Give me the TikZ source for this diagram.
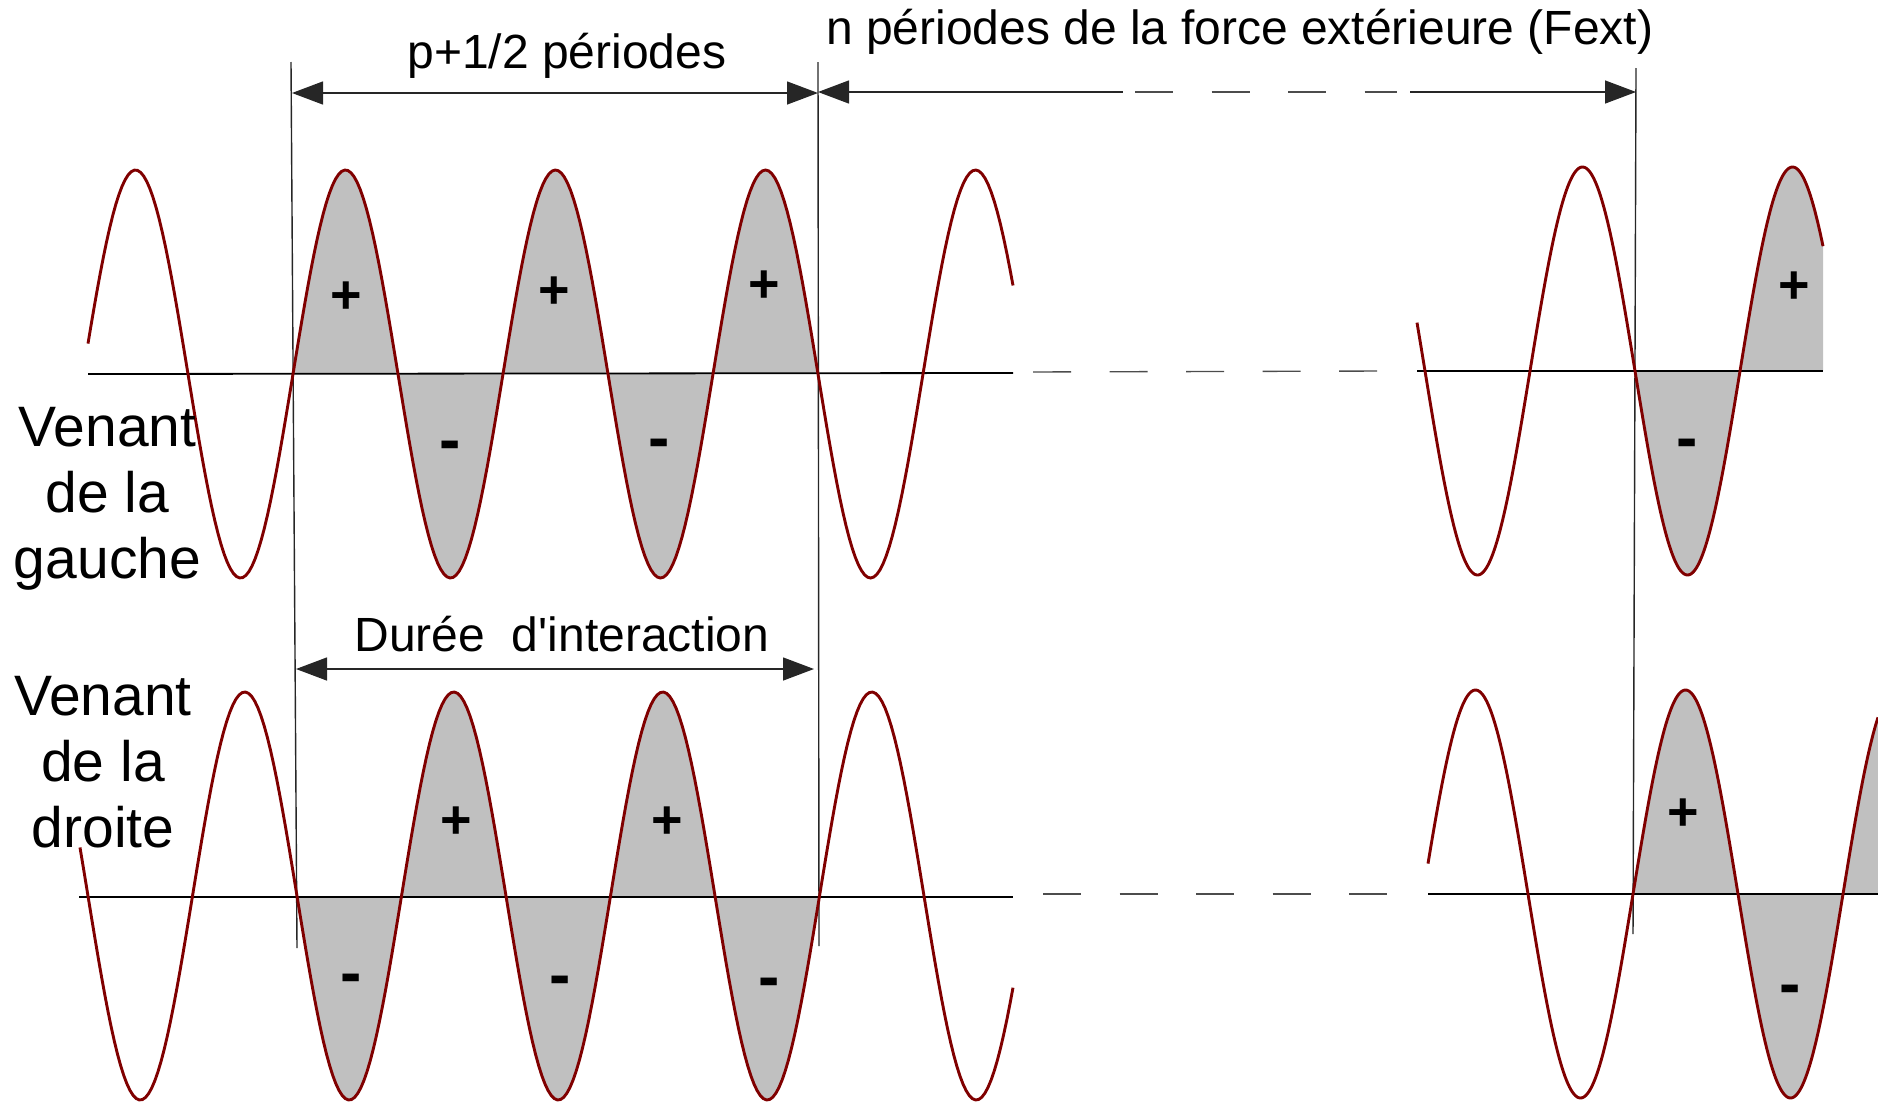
\documentclass[tikz,border=0pt]{standalone}
\usepackage{fontspec}
\setmainfont{Liberation Sans}
\usepackage{tikz}
\usetikzlibrary{arrows.meta,positioning}
\definecolor{wavered}{RGB}{128,0,0}
\definecolor{lobegray}{RGB}{192,192,192}

\begin{document}
\begin{tikzpicture}[
    x=1pt,
    y=-1pt,
    >={Triangle[length=31pt,width=23pt]},
    wave/.style={wavered,line width=2.9pt,samples=300},
    axis/.style={black,line width=1.8pt},
    guide/.style={black!85,line width=1.4pt},
    gap/.style={black!70,line width=1.4pt,dash pattern=on 38pt off 38.5pt},
    lobe/.style={fill=lobegray},
    plus/.style={font=\fontsize{54}{54}\selectfont\bfseries,inner sep=0pt},
    minus/.style={font=\fontsize{64}{64}\selectfont\bfseries,inner sep=0pt},
    title/.style={font=\fontsize{48}{56}\selectfont,inner sep=0pt},
    side/.style={font=\fontsize{57}{66}\selectfont,align=center,inner sep=0pt}
]
\useasboundingbox (0,0) rectangle (1878,1103);

% Shaded lobes
\fill[lobe] (293,374)
    -- plot[domain=293:818,samples=200] (\x,{374-204*sin((\x-293)/210*360)})
    -- cycle;
\fill[lobe] (1635,371)
    -- plot[domain=1635:1823,samples=120] (\x,{371+204*sin((\x-1635)/210*360)})
    -- (1823,371) -- cycle;
\fill[lobe] (297,896)
    -- plot[domain=297:819.5,samples=200] (\x,{896+204*sin((\x-297)/209*360)})
    -- cycle;
\fill[lobe] (1633,894)
    -- plot[domain=1633:1878,samples=150] (\x,{894-204*sin((\x-1633)/210*360)})
    -- (1878,894) -- cycle;

% Time axes
\draw[axis] (88,374) -- (1013,373);
\draw[gap] (1033,372) -- (1379,371);
\draw[axis] (1417,371) -- (1823,371);
\draw[axis] (79,897) -- (1013,897);
\draw[gap] (1043,894) -- (1389,894);
\draw[axis] (1428,894) -- (1878,894);

% Vertical marks
\coordinate (v1t) at (291,62);
\coordinate (v1b) at (297,948);
\coordinate (v2t) at (818,62);
\coordinate (v2b) at (819,946);
\coordinate (v3t) at (1636,68);
\coordinate (v3b) at (1633,934);
\draw[guide] (v1t) -- (v1b);
\draw[guide] (v2t) -- (v2b);
\draw[guide] (v3t) -- (v3b);

% Sine waves
\draw[wave] plot[domain=88:1013] (\x,{374-204*sin((\x-293)/210*360)});
\draw[wave] plot[domain=1417:1823] (\x,{371+204*sin((\x-1635)/210*360)});
\draw[wave] plot[domain=80:1013] (\x,{896+204*sin((\x-297)/209*360)});
\draw[wave] plot[domain=1428:1878] (\x,{894-204*sin((\x-1633)/210*360)});

% Dimension arrows
\coordinate (a1) at (292,93);
\coordinate (a2) at (818,93);
\coordinate (b1) at (818,92);
\coordinate (b2) at (1123,92);
\coordinate (b3) at (1135,92);
\coordinate (b4) at (1397,92);
\coordinate (b5) at (1410,92);
\coordinate (b6) at (1636,92);
\coordinate (d1) at (296,669);
\coordinate (d2) at (814,669);
\draw[guide,<->] (a1) -- (a2);
\draw[guide,<-] (b1) -- (b2);
\draw[gap] (b3) -- (b4);
\draw[guide,->] (b5) -- (b6);
\draw[guide,<->] (d1) -- (d2);

\node[title,anchor=base] (per) at (567,68) {p+1/2 périodes};
\node[title,anchor=base west] (next) at (826,44)
    {n périodes de la force extérieure (Fext)};
\node[title,anchor=base] (dur) at (562,651)
    {Durée\ \ d\textquotesingle interaction};

% Side labels
\node[side,anchor=north] (gauche) at (107.5,407) {Venant\\de la\\gauche};
\node[side,anchor=north] (droite) at (103,676) {Venant\\de la\\droite};

% Signs of the lobes
\node[plus] (tp1) at (346,298) {+};
\node[plus] (tp2) at (554,293) {+};
\node[plus] (tp3) at (764,287) {+};
\node[minus] (tm1) at (450,451) {-};
\node[minus] (tm2) at (659,449) {-};
\node[minus] (tm3) at (1687,449) {-};
\node[plus] (tp4) at (1794,288) {+};
\node[plus] (bp1) at (456,823) {+};
\node[plus] (bp2) at (667,823) {+};
\node[minus] (bm1) at (351,984) {-};
\node[minus] (bm2) at (560,986) {-};
\node[minus] (bm3) at (769,988) {-};
\node[plus] (bp3) at (1683,815) {+};
\node[minus] (bm4) at (1790,995) {-};

\end{tikzpicture}
\end{document}
